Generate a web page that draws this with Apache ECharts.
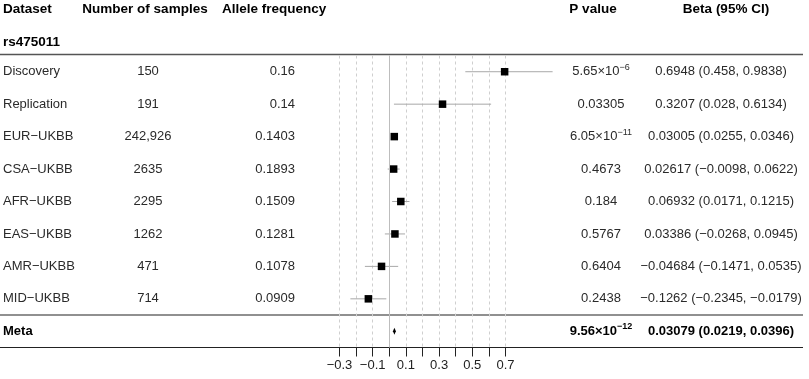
<!DOCTYPE html>
<html>
<head>
<meta charset="utf-8">
<script src="https://cdn.jsdelivr.net/npm/echarts@6/dist/echarts.min.js"></script>
<style>
  html, body { margin: 0; padding: 0; background: #fff; }
  #main { width: 809px; height: 379px; }
</style>
</head>
<body>
<div id="main"></div>
<script>
var datasets = ['Discovery', 'Replication', 'EUR\u2212UKBB', 'CSA\u2212UKBB', 'AFR\u2212UKBB', 'EAS\u2212UKBB', 'AMR\u2212UKBB', 'MID\u2212UKBB']
var samples = ['150', '191', '242,926', '2635', '2295', '1262', '471', '714']
var alleleFreq = ['0.16', '0.14', '0.1403', '0.1893', '0.1509', '0.1281', '0.1078', '0.0909']
var pValues = ['5.65\u00d710^\u22126', '0.03305', '6.05\u00d710^\u221211', '0.4673', '0.184', '0.5767', '0.6404', '0.2438']
var beta = [0.6948, 0.3207, 0.03005, 0.02617, 0.06932, 0.03386, -0.04684, -0.1262]
var ciLow = [0.458, 0.028, 0.0255, -0.0098, 0.0171, -0.0268, -0.1471, -0.2345]
var ciHigh = [0.9838, 0.6134, 0.0346, 0.0622, 0.1215, 0.0945, 0.0535, -0.0179]
var metaLabel = 'Meta'
var metaBeta = 0.03079
var metaLow = 0.0219
var metaHigh = 0.0396
var metaP = '9.56\u00d710^\u221212'
var snp = 'rs475011'
var headers = ['Dataset', 'Number of samples', 'Allele frequency', 'P value', 'Beta (95% CI)']

var FONT = '"Liberation Sans", Arial, Helvetica, sans-serif'
var TXT = '#2a2a2a'

var rows = datasets.concat([metaLabel])

function num(v) {
    return String(v).replace('-', '\u2212')
}
function betaText(b, lo, hi) {
    return num(b) + ' (' + num(lo) + ', ' + num(hi) + ')'
}
function pRich(p) {
    var parts = p.split('^')
    if (parts.length === 1) return '{b|' + p + '}'
    return '{b|' + parts[0] + '}{s|' + parts[1] + '}'
}

// table text for every row, positioned on the category axis
var textData = rows.map(function (name, i) {
    var meta = i === datasets.length
    return {
        value: [0, i],
        name: name,
        n: meta ? '' : samples[i],
        af: meta ? '' : alleleFreq[i],
        p: meta ? metaP : pValues[i],
        bt: meta ? betaText(metaBeta, metaLow, metaHigh) : betaText(beta[i], ciLow[i], ciHigh[i]),
        bold: meta
    }
})

var forestData = beta.map(function (b, i) {
    return [b, i, ciLow[i], ciHigh[i]]
})

var myChart = echarts.init(document.getElementById('main'))

function txt(x, y, text, align, bold, rich, size) {
    var st = {
        text: text,
        x: 0, y: 0,
        fill: bold ? '#000' : TXT,
        fontFamily: FONT,
        fontSize: size || 13,
        fontWeight: bold ? 'bold' : 'normal',
        align: align,
        verticalAlign: 'middle'
    }
    if (rich) st.rich = rich
    return { type: 'text', x: x, y: y, style: st }
}

myChart.setOption({
    animation: false,
    grid: { left: 339.5, right: 303.5, top: 55.5, bottom: 31.5 },
    xAxis: {
        type: 'value',
        min: -0.3,
        max: 0.7,
        interval: 0.1,
        axisLine: { show: false },
        axisTick: { show: true, length: 9, lineStyle: { color: '#222', width: 1 } },
        axisLabel: {
            margin: 11,
            color: '#222',
            fontFamily: FONT,
            fontSize: 13,
            formatter: function (v) {
                var k = Math.round(v * 10)
                if (Math.abs(k) % 2 !== 1) return ''
                return num((k / 10).toFixed(1))
            }
        },
        splitLine: { show: true, lineStyle: { color: '#cfcfcf', type: [3, 3], width: 1 } }
    },
    yAxis: {
        type: 'category',
        data: rows,
        inverse: true,
        show: false
    },
    graphic: [
        txt(3, 9, headers[0], 'left', true, null, 13.5),
        txt(145, 9, headers[1], 'center', true, null, 13.5),
        txt(222, 9, headers[2], 'left', true, null, 13.5),
        txt(593, 9, headers[3], 'center', true, null, 13.5),
        txt(726, 9, headers[4], 'center', true, null, 13.5),
        txt(3, 42, snp, 'left', true, null, 13.5),
        { type: 'line', shape: { x1: 0, y1: 54.5, x2: 803, y2: 54.5 }, style: { stroke: '#555', lineWidth: 1.5 } },
        { type: 'line', shape: { x1: 0, y1: 315, x2: 803, y2: 315 }, style: { stroke: '#222', lineWidth: 1.2 } },
        { type: 'line', shape: { x1: 0, y1: 347.5, x2: 803, y2: 347.5 }, style: { stroke: '#222', lineWidth: 1.2 } }
    ],
    series: [
        {
            // table text columns
            type: 'custom',
            clip: false,
            silent: true,
            data: textData,
            renderItem: function (params, api) {
                var d = textData[params.dataIndex]
                var y = api.coord([0, d.value[1]])[1]
                var col = d.bold ? '#000' : TXT
                var rich = {
                    b: { fontFamily: FONT, fontSize: 13, fontWeight: d.bold ? 'bold' : 'normal', fill: col, color: col, lineHeight: 18 },
                    s: { fontFamily: FONT, fontSize: 9, fontWeight: d.bold ? 'bold' : 'normal', fill: col, color: col, verticalAlign: 'top', lineHeight: 18 }
                }
                return {
                    type: 'group',
                    children: [
                        txt(3, y, d.name, 'left', d.bold),
                        txt(148, y, d.n, 'center', false),
                        txt(295, y, d.af, 'right', false),
                        txt(601, y, pRich(d.p), 'center', d.bold, rich),
                        txt(721, y, d.bt, 'center', d.bold)
                    ]
                }
            }
        },
        {
            // estimates with 95% CI
            type: 'custom',
            clip: false,
            data: forestData,
            renderItem: function (params, api) {
                var c = api.coord([api.value(0), api.value(1)])
                var lo = api.coord([api.value(2), api.value(1)])
                var hi = api.coord([api.value(3), api.value(1)])
                var s = 7.5
                return {
                    type: 'group',
                    children: [
                        { type: 'line', shape: { x1: lo[0], y1: c[1], x2: hi[0], y2: c[1] }, style: { stroke: '#a8a8a8', lineWidth: 1 } },
                        { type: 'rect', shape: { x: c[0] - s / 2, y: c[1] - s / 2, width: s, height: s }, style: { fill: '#000' } }
                    ]
                }
            },
            markLine: {
                silent: true,
                symbol: 'none',
                label: { show: false },
                lineStyle: { color: '#bdbdbd', type: 'solid', width: 1 },
                data: [{ xAxis: 0 }]
            }
        },
        {
            // meta summary diamond
            type: 'custom',
            clip: false,
            data: [[metaBeta, datasets.length, metaLow, metaHigh]],
            renderItem: function (params, api) {
                var c = api.coord([api.value(0), api.value(1)])
                var lo = api.coord([api.value(2), api.value(1)])
                var hi = api.coord([api.value(3), api.value(1)])
                return {
                    type: 'polygon',
                    shape: { points: [[lo[0], c[1]], [c[0], c[1] - 3.5], [hi[0], c[1]], [c[0], c[1] + 3.5]] },
                    style: { fill: '#000' }
                }
            }
        }
    ]
})
</script>
</body>
</html>
